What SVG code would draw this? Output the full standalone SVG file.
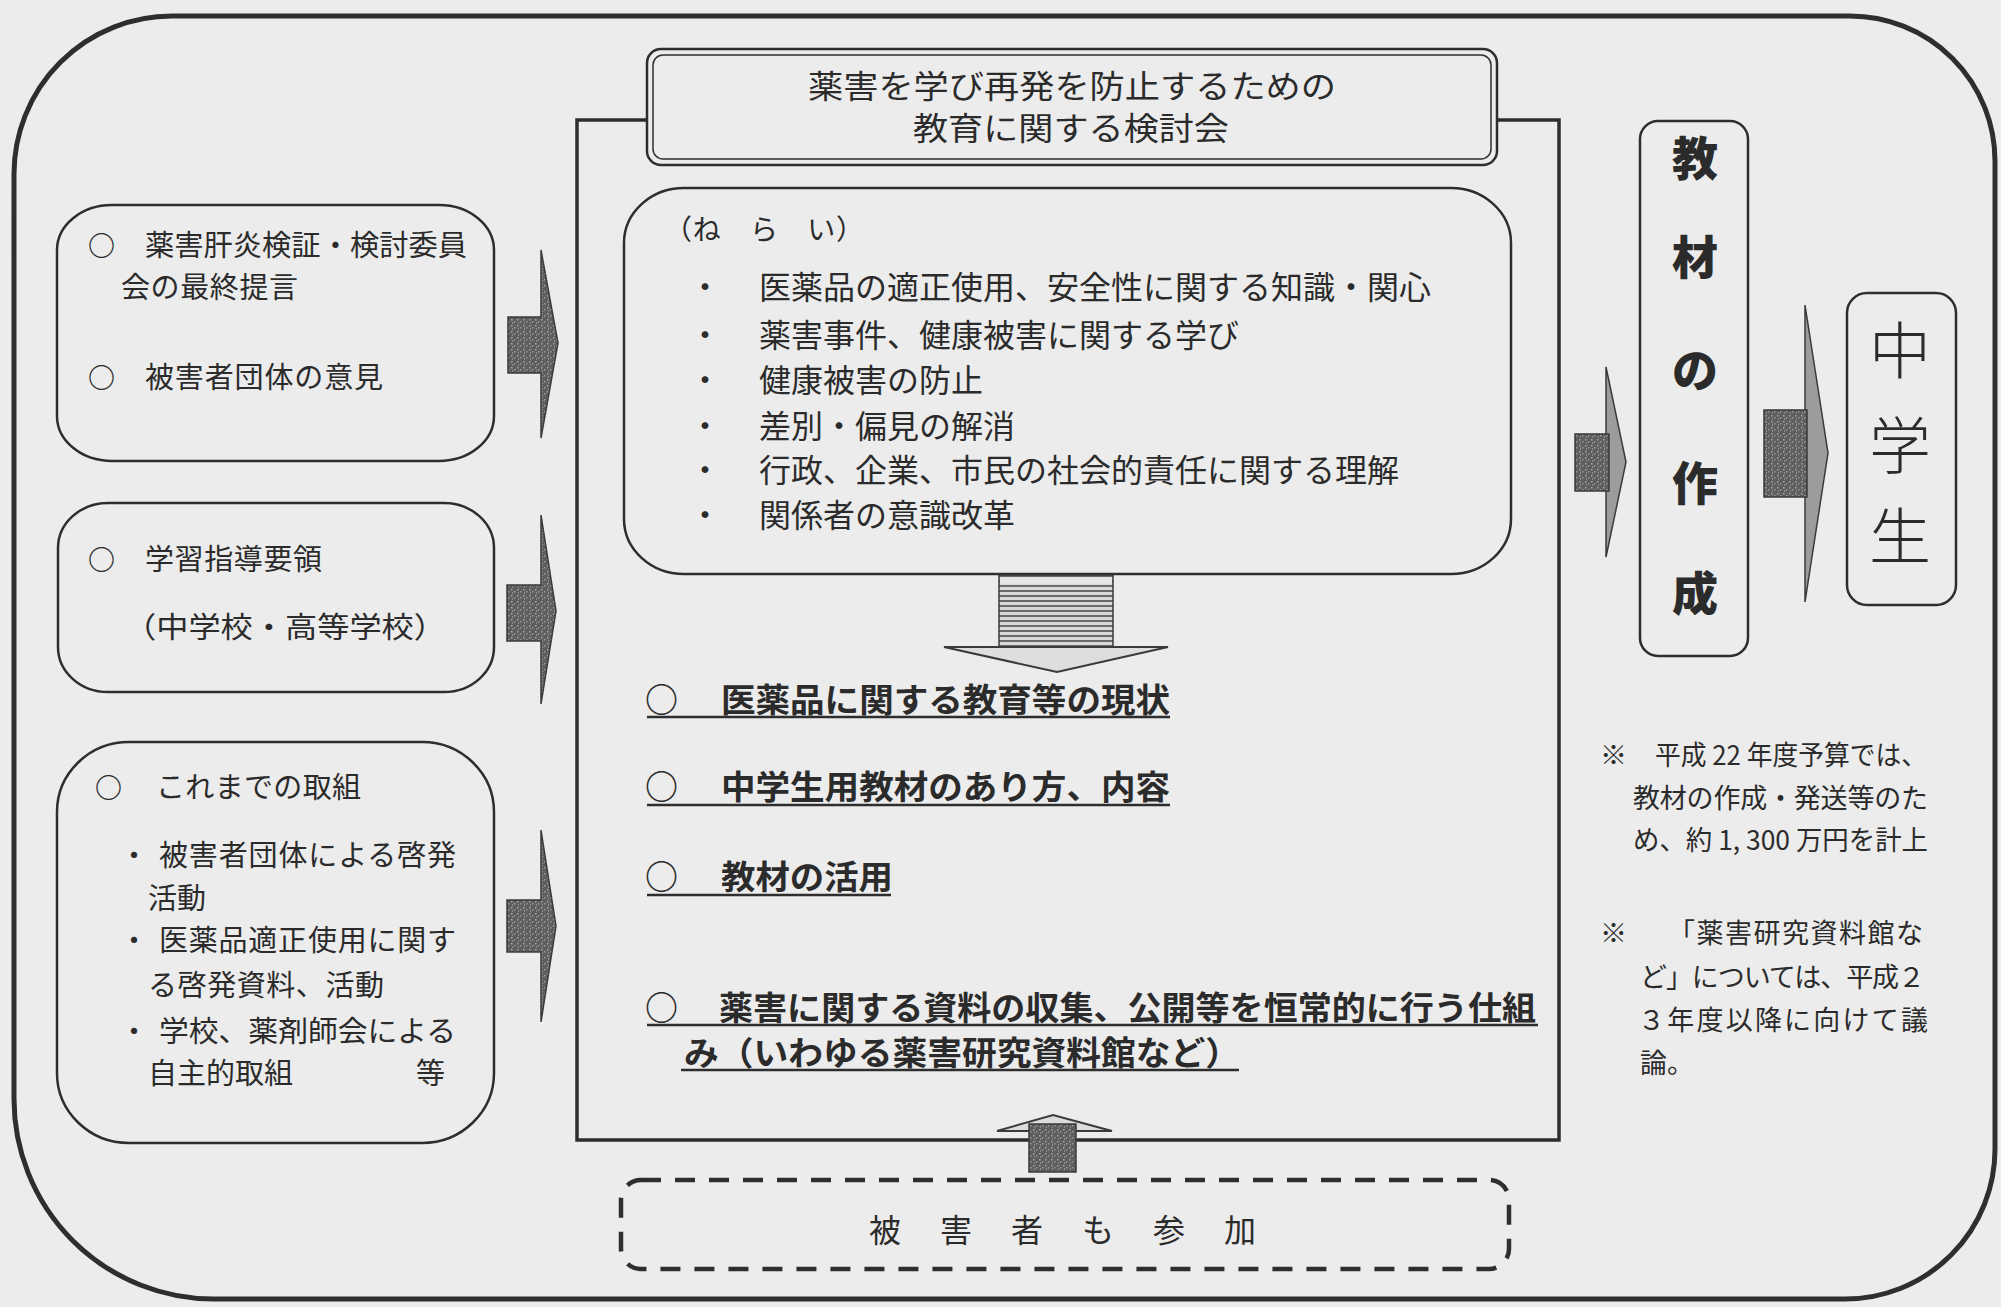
<svg xmlns="http://www.w3.org/2000/svg" width="2001" height="1307" viewBox="0 0 2001 1307">
<style>
.t{font-family:"Noto Sans CJK JP","Noto Sans CJK SC",sans-serif;fill:#2b2b2b}
.b{font-weight:700}
.o{font-weight:700}
.line{fill:none;stroke:#2e2e2e}
.arrowDark{fill:url(#noise);stroke:#3a3a3a;stroke-width:1.5}
.arrowHead{fill:#9c9c9c;stroke:#3a3a3a;stroke-width:1.5}
.ul{stroke:#2e2e2e;stroke-width:2.5}
</style>
<defs>
<pattern id="noise" width="6" height="6" patternUnits="userSpaceOnUse">
<rect width="6" height="6" fill="#5e5e5e"/>
<rect x="1" y="1" width="1.5" height="1.5" fill="#a8a8a8"/>
<rect x="4" y="3" width="1.5" height="1.5" fill="#9a9a9a"/>
<rect x="2" y="4.5" width="1" height="1" fill="#bbbbbb"/>
</pattern>
<pattern id="stripes" width="8" height="5" patternUnits="userSpaceOnUse">
<rect width="8" height="5" fill="#d8d8d8"/>
<rect y="0" width="8" height="2" fill="#6a6a6a"/>
</pattern>
</defs>
<rect x="0" y="0" width="2001" height="1307" fill="#ececec"/>

<!-- outer frame -->
<path id="frame" class="line" stroke-width="5" d="M172,16 H1850 A145,145 0 0 1 1995,161 V1149 A150,150 0 0 1 1845,1299 H214 A200,200 0 0 1 14,1099 V174 A158,158 0 0 1 172,16 Z"/>

<!-- main study box -->
<g id="main-box">
<rect x="577" y="120" width="982" height="1020" class="line" stroke-width="3.5"/>
</g>

<g id="title">
<rect x="647" y="49" width="850" height="116" rx="14" fill="#ececec" stroke="#2e2e2e" stroke-width="2.5"/>
<rect x="653" y="55" width="838" height="104" rx="10" fill="none" stroke="#2e2e2e" stroke-width="1.5"/>
<text class="t" x="808" y="97.5" font-size="32" textLength="528" lengthAdjust="spacingAndGlyphs">薬害を学び再発を防止するための</text>
<text class="t" x="913" y="139.5" font-size="32" textLength="316" lengthAdjust="spacingAndGlyphs">教育に関する検討会</text>
</g>

<g id="aims">
<rect x="624" y="188" width="887" height="386" rx="60" ry="55" fill="none" stroke="#2e2e2e" stroke-width="2.5"/>
<text class="t" x="664" y="240" font-size="28" textLength="200" lengthAdjust="spacing">（ね　ら　い）</text>
<g class="t" font-size="32">
<text x="705" y="299" text-anchor="middle">・</text>
<text x="759" y="299">医薬品の適正使用、安全性に関する知識・関心</text>
<text x="705" y="347" text-anchor="middle">・</text>
<text x="759" y="347">薬害事件、健康被害に関する学び</text>
<text x="705" y="392" text-anchor="middle">・</text>
<text x="759" y="392">健康被害の防止</text>
<text x="705" y="438" text-anchor="middle">・</text>
<text x="759" y="438">差別・偏見の解消</text>
<text x="705" y="482" text-anchor="middle">・</text>
<text x="759" y="482">行政、企業、市民の社会的責任に関する理解</text>
<text x="705" y="527" text-anchor="middle">・</text>
<text x="759" y="527">関係者の意識改革</text>
</g>
</g>

<g id="topics">
<g class="t b" font-size="33">
<text x="645" y="712">○</text>
<text x="721" y="712" textLength="449" lengthAdjust="spacingAndGlyphs">医薬品に関する教育等の現状</text>
<text x="645" y="799">○</text>
<text x="721" y="799" textLength="449" lengthAdjust="spacingAndGlyphs">中学生用教材のあり方、内容</text>
<text x="645" y="889">○</text>
<text x="721" y="889" textLength="172" lengthAdjust="spacingAndGlyphs">教材の活用</text>
<text x="645" y="1020">○</text>
<text x="719" y="1020" textLength="817" lengthAdjust="spacingAndGlyphs">薬害に関する資料の収集、公開等を恒常的に行う仕組</text>
<text x="684" y="1065" textLength="556" lengthAdjust="spacingAndGlyphs">み（いわゆる薬害研究資料館など）</text>
</g>
<line class="ul" x1="647" y1="717" x2="1170" y2="717"/>
<line class="ul" x1="647" y1="805" x2="1170" y2="805"/>
<line class="ul" x1="647" y1="895" x2="891" y2="895"/>
<line class="ul" x1="647" y1="1025" x2="1538" y2="1025"/>
<line class="ul" x1="681" y1="1070" x2="1239" y2="1070"/>
</g>

<g id="left-box-1">
<rect x="57" y="205" width="437" height="256" rx="55" ry="45" fill="none" stroke="#2e2e2e" stroke-width="2.5"/>
<g class="t" font-size="29">
<text class="o" x="88" y="255.5" font-size="27">○</text>
<text x="145" y="255.5" textLength="322" lengthAdjust="spacingAndGlyphs">薬害肝炎検証・検討委員</text>
<text x="121" y="297.5" textLength="177" lengthAdjust="spacing">会の最終提言</text>
<text class="o" x="88" y="387.5" font-size="27">○</text>
<text x="145" y="387.5" textLength="238" lengthAdjust="spacing">被害者団体の意見</text>
</g>
</g>

<g id="left-box-2">
<rect x="58" y="503" width="436" height="189" rx="50" ry="45" fill="none" stroke="#2e2e2e" stroke-width="2.5"/>
<g class="t" font-size="29">
<text class="o" x="88" y="569.5" font-size="27">○</text>
<text x="145" y="569.5" textLength="177" lengthAdjust="spacing">学習指導要領</text>
<text x="124" y="637.5" textLength="322" lengthAdjust="spacingAndGlyphs">（中学校・高等学校）</text>
</g>
</g>

<g id="left-box-3">
<rect x="57" y="742" width="437" height="401" rx="72" ry="70" fill="none" stroke="#2e2e2e" stroke-width="2.5"/>
<g class="t" font-size="29">
<text class="o" x="95" y="797.5" font-size="27">○</text>
<text x="156" y="797.5" textLength="205" lengthAdjust="spacing">これまでの取組</text>
<text x="134" y="865.5" text-anchor="middle">・</text>
<text x="159" y="865.5" textLength="297" lengthAdjust="spacing">被害者団体による啓発</text>
<text x="148" y="908.5">活動</text>
<text x="134" y="950.5" text-anchor="middle">・</text>
<text x="159" y="950.5" textLength="297" lengthAdjust="spacing">医薬品適正使用に関す</text>
<text x="148" y="995.5" textLength="236" lengthAdjust="spacing">る啓発資料、活動</text>
<text x="134" y="1041.5" text-anchor="middle">・</text>
<text x="159" y="1041.5" textLength="297" lengthAdjust="spacingAndGlyphs">学校、薬剤師会による</text>
<text x="148" y="1083.5" textLength="145" lengthAdjust="spacing">自主的取組</text>
<text x="416" y="1083.5">等</text>
</g>
</g>

<g id="material-box">
<rect x="1640" y="121" width="108" height="535" rx="18" fill="none" stroke="#2e2e2e" stroke-width="2.5"/>
<g class="t" font-size="46" font-weight="900" text-anchor="middle">
<text x="1695" y="174.5">教</text>
<text x="1695" y="273.5">材</text>
<text x="1695" y="386.5">の</text>
<text x="1695" y="499.5">作</text>
<text x="1695" y="609.5">成</text>
</g>
</g>

<g id="student-box">
<rect x="1847" y="293" width="109" height="312" rx="20" fill="none" stroke="#2e2e2e" stroke-width="2.5"/>
<g class="t" font-size="62" font-weight="300" text-anchor="middle">
<text x="1900" y="374">中</text>
<text x="1900" y="469">学</text>
<text x="1900" y="560">生</text>
</g>
</g>

<g id="notes">
<g class="t" font-size="27">
<text x="1600" y="765">※</text>
<text x="1655" y="765" textLength="272" lengthAdjust="spacingAndGlyphs">平成 22 年度予算では、</text>
<text x="1633" y="808" textLength="295" lengthAdjust="spacing">教材の作成・発送等のた</text>
<text x="1633" y="850" textLength="295" lengthAdjust="spacingAndGlyphs">め、約 1, 300 万円を計上</text>
<text x="1600" y="943">※</text>
<text x="1668" y="943" textLength="255" lengthAdjust="spacing">「薬害研究資料館な</text>
<text x="1640" y="987" textLength="285" lengthAdjust="spacing">ど」については、平成２</text>
<text x="1638" y="1030" textLength="290" lengthAdjust="spacing">３年度以降に向けて議</text>
<text x="1640" y="1073">論。</text>
</g>
</g>

<g id="victims-box">
<rect x="621" y="1180" width="888" height="89" rx="20" fill="none" stroke="#2e2e2e" stroke-width="4.5" stroke-dasharray="20 14"/>
<text class="t" x="869" y="1241.5" font-size="32" letter-spacing="39">被害者も参加</text>
</g>

<g id="connectors">
<path class="arrowDark" d="M508,317 H541 V250 L558,343 L541,438 V373 H508 Z"/>
<path class="arrowDark" d="M507,585 H541 V515 L556,611 L541,704 V641 H507 Z"/>
<path class="arrowDark" d="M507,900 H541 V830 L556,926 L541,1022 V952 H507 Z"/>
<path class="arrowHead" d="M1606,434 V367 L1626,462 L1606,557 V491 Z"/>
<rect class="arrowDark" x="1575" y="434" width="34" height="57"/>
<path class="arrowHead" d="M1805,410 V305 L1828,453 L1805,602 V497 Z"/>
<rect class="arrowDark" x="1764" y="410" width="43" height="87"/>
<rect x="999" y="575" width="114" height="73" fill="url(#stripes)" stroke="#3a3a3a" stroke-width="1.5"/>
<rect x="1000" y="577" width="112" height="7" fill="#e6e6e6"/>
<path d="M944,647 H1168 L1057,672 Z" fill="#dedede" stroke="#3a3a3a" stroke-width="2"/>
<path d="M997,1131 L1053,1115 L1112,1131 Z" fill="#dcdcdc" stroke="#3a3a3a" stroke-width="2"/>
<rect class="arrowDark" x="1029" y="1124" width="47" height="48"/>
</g>
</svg>
